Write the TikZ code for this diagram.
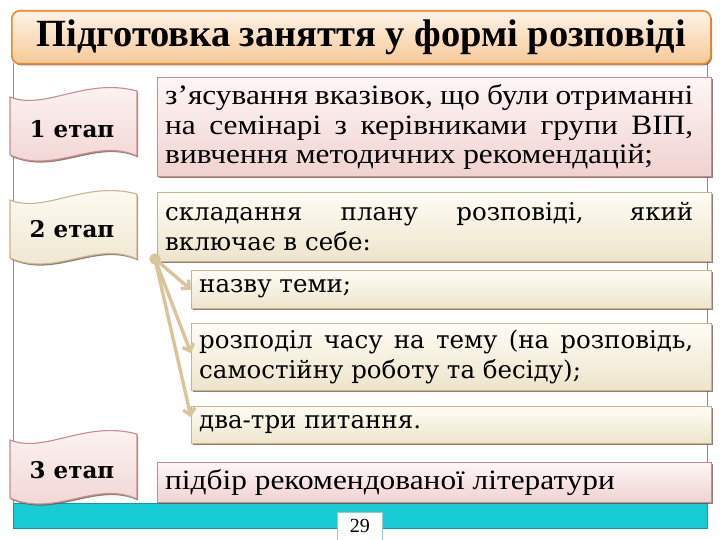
\documentclass[tikz,border=0pt]{standalone}
\usepackage{fontspec}
\setmainfont{Liberation Serif}
\newfontfamily\fA[FakeStretch=1.12]{Liberation Serif}
\newfontfamily\fB{DejaVu Serif}
\usetikzlibrary{shadows,arrows.meta}
\definecolor{pinkT}{HTML}{FDF6F5}
\definecolor{pinkD}{HTML}{F0D2D0}
\definecolor{pinkB}{HTML}{C48E90}
\definecolor{creamT}{HTML}{FEFCF5}
\definecolor{creamD}{HTML}{EDE4CB}
\definecolor{creamB}{HTML}{C8B48E}
\definecolor{shadC}{HTML}{6E5248}
\definecolor{tanC}{HTML}{D8C59C}
\definecolor{frameC}{HTML}{5B9FB0}
\definecolor{tealC}{HTML}{18CCD6}
\definecolor{tealB}{HTML}{1398A8}
\definecolor{orB}{HTML}{E38B35}
\definecolor{orT}{HTML}{FEF4E8}
\definecolor{orD}{HTML}{F5C996}
\tikzset{
  shad/.style={drop shadow={shadow xshift=1.2pt, shadow yshift=-1.6pt, fill=shadC, opacity=.75}},
  pinkbox/.style={rectangle, draw=pinkB, line width=1.2pt, top color=pinkT, bottom color=pinkD, shad, inner sep=0pt, anchor=north west},
  creambox/.style={rectangle, draw=creamB, line width=1.2pt, top color=creamT, bottom color=creamD, shad, inner sep=0pt, anchor=north west},
  wavepink/.style={draw=pinkB, line width=1.1pt, top color=pinkT, bottom color=pinkD, shad},
  wavecream/.style={draw=creamB, line width=1.1pt, top color=creamT, bottom color=creamD, shad},
  wave/.style={insert path={(10,#1) .. controls (45,{#1+14}) and (85,{#1-20}) .. (137,{#1-6}) -- (137,{#1+59}) .. controls (95,{#1+40}) and (55,{#1+78}) .. (10,{#1+58}) -- cycle}},
  stagelbl/.style={font=\fB\bfseries\fontsize{23}{26}\selectfont, inner sep=0pt},
  txtA/.style={font=\fA\fontsize{28}{29.5}\selectfont, inner sep=0pt, anchor=west, align=justify},
  txtB/.style={font=\fB\fontsize{24.5}{29.5}\selectfont, inner sep=0pt, anchor=west, align=justify},
  arr/.style={draw=tanC, line width=3.4pt, -{Straight Barb[length=6pt,width=12pt]}},
}
\begin{document}
\begin{tikzpicture}[x=1pt,y=-1pt]
\useasboundingbox (0,0) rectangle (720,540);
\fill[white] (0,0) rectangle (720,540);
% frame lines
\draw[frameC, line width=0.8pt] (13,63) -- (13,503);
\draw[frameC, line width=0.8pt] (707,63) -- (707,503);
% title
\node[rectangle, rounded corners=8pt, draw=orB, line width=1.6pt, top color=orT, bottom color=orD, shad,
      minimum width=699pt, minimum height=53pt, anchor=north west, inner sep=0pt,
      font=\bfseries\fontsize{38.5}{42}\selectfont] (title) at (11,10) {Підготовка заняття у формі розповіді};
% bottom band and page number
\node[rectangle, fill=tealC, draw=tealB, line width=0.6pt, minimum width=694pt, minimum height=25pt, anchor=north west, inner sep=0pt] (band) at (13,503) {};
\node[rectangle, fill=white, draw=frameC!60, line width=0.6pt, minimum width=45pt, minimum height=28pt, anchor=north west, inner sep=0pt,
      font=\fontsize{20}{22}\selectfont] (page) at (337,512) {29};
% stage flags
\path[wavepink, wave=97];
\node[stagelbl] (s1) at (72,129) {1 етап};
\path[wavecream, wave=200];
\node[stagelbl] (s2) at (72,229) {2 етап};
\path[wavepink, wave=440];
\node[stagelbl] (s3) at (72,470) {3 етап};
% right boxes
\node[pinkbox, minimum width=554pt, minimum height=99pt] (b1) at (157,77) {};
\node[txtA, text width=528pt] (t1) at (165,127) {з’ясування вказівок, що були отриманні\linebreak на семінарі з керівниками групи ВІП,\linebreak вивчення методичних рекомендацій;};
\node[creambox, minimum width=554pt, minimum height=69pt] (b2) at (157,192) {};
\node[txtB, text width=528pt] (t2) at (165,226.5) {складання плану розповіді, який\linebreak включає в себе:};
\node[creambox, minimum width=520pt, minimum height=38pt] (b3) at (191,270) {};
\node[txtB] (t3) at (199,289) {назву теми;};
\node[creambox, minimum width=520pt, minimum height=67pt] (b4) at (191,323) {};
\node[txtB, text width=494pt] (t4) at (199,357) {розподіл часу на тему (на розповідь,\linebreak самостійну роботу та бесіду);};
\node[creambox, minimum width=520pt, minimum height=37pt] (b5) at (191,406) {};
\node[txtB] (t5) at (199,424.5) {два-три питання.};
\node[pinkbox, minimum width=554pt, minimum height=40pt] (b6) at (157,462) {};
\node[txtA] (t6) at (165,482) {підбір рекомендованої літератури};
% connectors
\node[circle, fill=tanC, inner sep=0pt, minimum size=11pt] (hub) at (155,259) {};
\draw[arr] (hub.center) -- (b3.west);
\draw[arr] (hub.center) -- ([yshift=4pt]b4.west);
\draw[arr] (hub.center) -- ([yshift=8pt]b5.west);
\node[circle, fill=tanC, inner sep=0pt, minimum size=11pt] at (hub) {};
\end{tikzpicture}
\end{document}
